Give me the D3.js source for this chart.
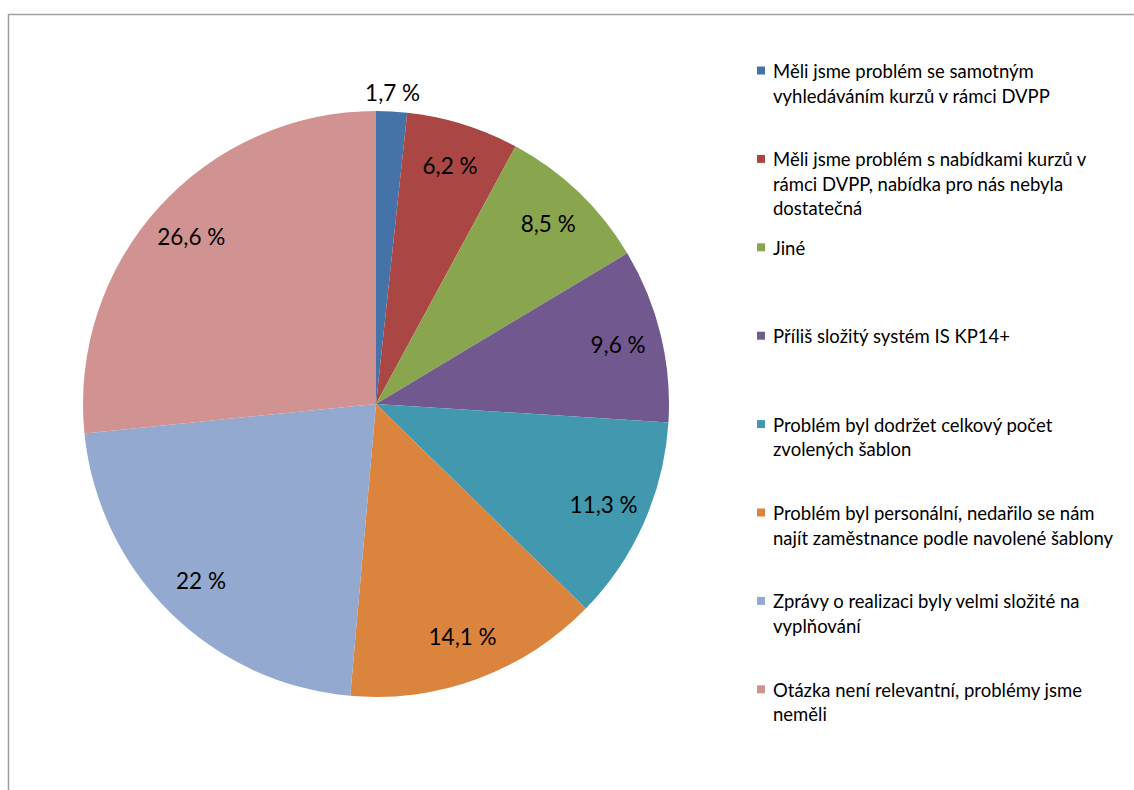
<!DOCTYPE html>
<html>
<head>
<meta charset="utf-8">
<script src="https://cdn.jsdelivr.net/npm/d3@7"></script>
<style>
  body { margin: 0; background: #fff; }
  svg { display: block; font-family: Lato, "Open Sans", sans-serif; }
</style>
</head>
<body>
<div id="chart"></div>
<script>
const categories = [
  ["Měli jsme problém se samotným", "vyhledáváním kurzů v rámci DVPP"],
  ["Měli jsme problém s nabídkami kurzů v", "rámci DVPP, nabídka pro nás nebyla", "dostatečná"],
  ["Jiné"],
  ["Příliš složitý systém IS KP14+"],
  ["Problém byl dodržet celkový počet", "zvolených šablon"],
  ["Problém byl personální, nedařilo se nám", "najít zaměstnance podle navolené šablony"],
  ["Zprávy o realizaci byly velmi složité na", "vyplňování"],
  ["Otázka není relevantní, problémy jsme", "neměli"]
];
const values = [1.7, 6.2, 8.5, 9.6, 11.3, 14.1, 22, 26.6];
const valueLabels = ["1,7 %", "6,2 %", "8,5 %", "9,6 %", "11,3 %", "14,1 %", "22 %", "26,6 %"];
const colors = ["#4572A7", "#AA4643", "#89A54E", "#71588F", "#4198AF", "#DB843D", "#93A9CF", "#D19392"];

const width = 1134, height = 790;
const cx = 376, cy = 404, radius = 293;

const svg = d3.select("#chart").append("svg")
  .attr("width", width).attr("height", height);

// frame (only top and left edges visible in the picture)
svg.append("rect")
  .attr("x", 8.5).attr("y", 14.5)
  .attr("width", width + 20).attr("height", height + 20)
  .attr("fill", "none").attr("stroke", "#a0a0a0").attr("stroke-width", 1.5);

const data = values.map((v, i) => ({ v, i }));
const pie = d3.pie().value(d => d.v).sort(null);
const arcs = pie(data);
const arc = d3.arc().innerRadius(0).outerRadius(radius);
const labelArc = d3.arc().innerRadius(radius * 0.85).outerRadius(radius * 0.85);
const outerArc = d3.arc().innerRadius(radius + 18).outerRadius(radius + 18);

const g = svg.append("g").attr("transform", `translate(${cx},${cy})`);

g.selectAll("path.slice").data(arcs).join("path")
  .attr("class", "slice")
  .attr("d", arc)
  .attr("fill", d => colors[d.data.i]);

g.selectAll("text.val").data(arcs).join("text")
  .attr("class", "val")
  .attr("transform", d => `translate(${(d.data.v < 3 ? outerArc : labelArc).centroid(d)})`)
  .attr("text-anchor", "middle")
  .attr("dy", "0.35em")
  .style("font-size", "22.5px")
  .attr("fill", "#000")
  .text(d => valueLabels[d.data.i]);

// legend
const legendX = 757, legendY = 78, legendStep = 88.4, lineH = 24.5;
const leg = svg.append("g");
categories.forEach((lines, i) => {
  const item = leg.append("g").attr("transform", `translate(${legendX},${legendY + i * legendStep})`);
  item.append("rect").attr("x", 0).attr("y", -11.5).attr("width", 8).attr("height", 8)
    .attr("fill", colors[i]);
  const t = item.append("text").attr("x", 16).attr("y", 0)
    .style("font-size", "18.5px").attr("fill", "#000");
  lines.forEach((l, j) => {
    t.append("tspan").attr("x", 16).attr("y", j * lineH).text(l);
  });
});
</script>
</body>
</html>
